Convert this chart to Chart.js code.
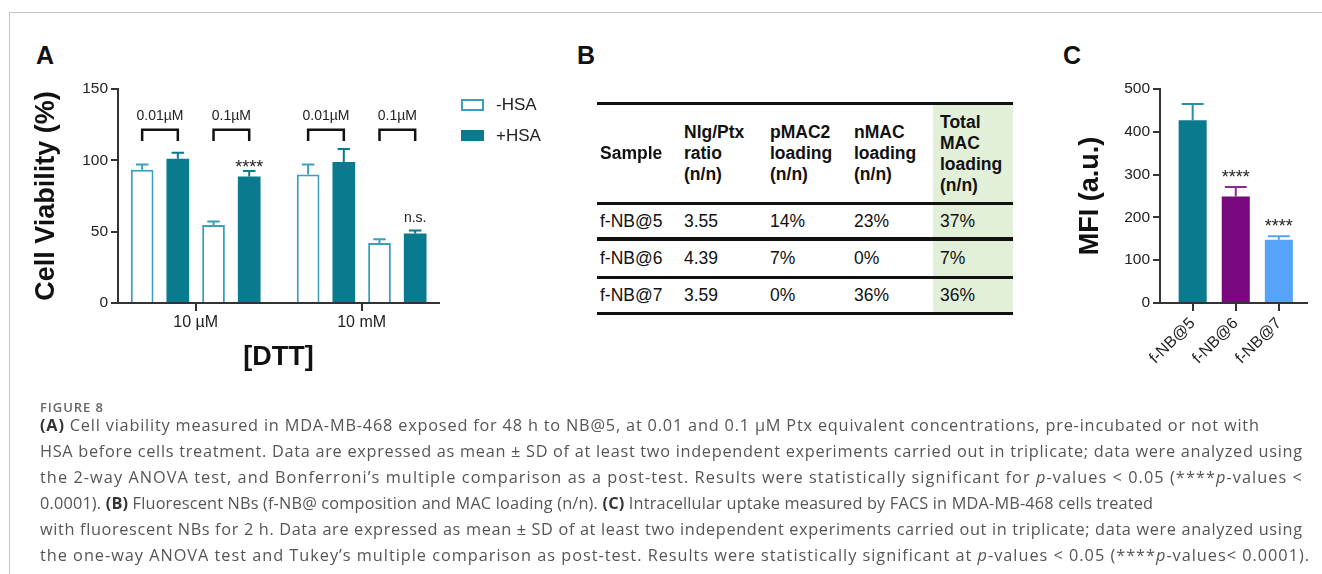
<!DOCTYPE html>
<html><head><meta charset="utf-8">
<script src="https://cdn.jsdelivr.net/npm/chart.js@4.4.0/dist/chart.umd.min.js"></script>
<style>
html,body{margin:0;padding:0;background:#fff;}
body{width:1322px;height:574px;position:relative;overflow:hidden;font-family:'Liberation Sans',Arial,sans-serif;}
.abs{position:absolute;}
.letter{position:absolute;font:bold 25px/25px 'Liberation Sans',Arial,sans-serif;color:#111;}
.cell{position:absolute;font-size:17.5px;line-height:21px;color:#111;white-space:nowrap;}
.cap{position:absolute;left:40px;font-family:'Open Sans','Noto Sans',sans-serif;font-size:16.3px;line-height:26px;height:26px;color:#555;white-space:nowrap;}
.cap b{color:#333;font-weight:700;}
.leg{position:absolute;font-size:17px;line-height:20px;color:#222;}
</style></head><body>
<div class="abs" style="left:9px;top:12px;width:1313px;height:1px;background:#c4c4c4"></div>
<div class="abs" style="left:9px;top:12px;width:1px;height:562px;background:#c4c4c4"></div>
<div class="letter" style="left:36px;top:43px">A</div>
<div class="letter" style="left:577px;top:43px">B</div>
<div class="letter" style="left:1063px;top:43px">C</div>
<canvas id="chartA" class="abs" width="560" height="330" style="left:0;top:70px;width:560px;height:330px"></canvas>
<canvas id="chartC" class="abs" width="282" height="330" style="left:1040px;top:70px;width:282px;height:330px"></canvas>
<div id="legendA"></div>
<div id="tableB"></div>
<div id="caption"></div>
<script>
// ---------- DATA ----------
const dttLevels = ['10 µM', '10 mM'];
const bracketLabels = ['0.01µM', '0.1µM'];
const legendLabels = ['-HSA', '+HSA'];
const minusHSA_001 = [93.4, 90.1];
const minusHSA_001_sd = [3.7, 7.0];
const plusHSA_001 = [101.1, 98.8];
const plusHSA_001_sd = [4.2, 9.1];
const minusHSA_01 = [54.7, 42.1];
const minusHSA_01_sd = [2.5, 2.5];
const plusHSA_01 = [88.7, 48.8];
const plusHSA_01_sd = [3.8, 2.1];
const sigA = ['****', 'n.s.'];
const yTicksA = [0, 50, 100, 150];

const samplesC = ['f-NB@5', 'f-NB@6', 'f-NB@7'];
const mfiC = [427, 249, 148];
const mfiC_sd = [38, 22, 8];
const sigC = ['', '****', '****'];
const yTicksC = [0, 100, 200, 300, 400, 500];

const tableHeaders = [['Sample'], ['Nlg/Ptx', 'ratio', '(n/n)'], ['pMAC2', 'loading', '(n/n)'], ['nMAC', 'loading', '(n/n)'], ['Total', 'MAC', 'loading', '(n/n)']];
const tableSamples = ['f-NB@5', 'f-NB@6', 'f-NB@7'];
const tableRatio = ['3.55', '4.39', '3.59'];
const tablePMAC2 = ['14%', '7%', '0%'];
const tableNMAC = ['23%', '0%', '36%'];
const tableTotal = ['37%', '7%', '36%'];

// ---------- STYLES ----------
const TEAL = '#0a7a8e', LTEAL = '#3a9ebd';
const barColorsC = ['#0a7a8e', '#79077e', '#57a3f7'];
const errColorsC = ['#2a8ea6', '#8a2a8e', '#57a3f7'];
const FONT = "'Liberation Sans', Arial, sans-serif";
Chart.defaults.font.family = FONT;
Chart.defaults.color = '#222';

const annot = {
  id: 'annot',
  afterDatasetsDraw(chart, args, opts) {
    const ctx = chart.ctx, y = chart.scales.y;
    chart.data.datasets.forEach((ds, di) => {
      const meta = chart.getDatasetMeta(di);
      meta.data.forEach((el, i) => {
        const v = ds.data[i].y, sd = ds.sd[i];
        const top = y.getPixelForValue(v + sd);
        const capW = el.width * opts.capRatio;
        const col = Array.isArray(ds.errColor) ? ds.errColor[i] : ds.errColor;
        ctx.save();
        ctx.strokeStyle = col; ctx.lineWidth = 2;
        ctx.beginPath();
        ctx.moveTo(el.x, el.y); ctx.lineTo(el.x, top);
        ctx.moveTo(el.x - capW / 2, top); ctx.lineTo(el.x + capW / 2, top);
        ctx.stroke();
        if (ds.sig && ds.sig[i]) {
          const s = ds.sig[i];
          ctx.fillStyle = '#222';
          ctx.textAlign = 'center'; ctx.textBaseline = 'alphabetic';
          ctx.font = (s === 'n.s.' ? '14px ' : '18px ') + FONT;
          ctx.fillText(s, el.x, top + (opts.sigShift[s] || 0));
        }
        ctx.restore();
      });
    });
    if (opts.brackets) {
      const b = opts.brackets;
      const yt = y.getPixelForValue(b.top), yl = y.getPixelForValue(b.leg), yx = y.getPixelForValue(b.label);
      const nGroups = chart.getDatasetMeta(0).data.length;
      for (let g = 0; g < nGroups; g++) {
        for (let p = 0; p < b.pairs.length; p++) {
          const [a, c] = b.pairs[p];
          const x1 = chart.getDatasetMeta(a).data[g].x, x2 = chart.getDatasetMeta(c).data[g].x;
          ctx.save();
          ctx.strokeStyle = '#111'; ctx.lineWidth = 2.5;
          ctx.beginPath();
          ctx.moveTo(x1, yl); ctx.lineTo(x1, yt); ctx.lineTo(x2, yt); ctx.lineTo(x2, yl);
          ctx.stroke();
          ctx.fillStyle = '#222'; ctx.font = '14px ' + FONT;
          ctx.textAlign = 'center'; ctx.textBaseline = 'middle';
          ctx.fillText(b.labels[p], (x1 + x2) / 2, yx);
          ctx.restore();
        }
      }
    }
  }
};

function mkDs(label, vals, sds, open, sig) {
  return {
    label, data: vals.map((v, i) => ({x: i, y: v})), sd: sds, sig,
    backgroundColor: open ? '#ffffff' : TEAL,
    borderColor: open ? LTEAL : TEAL,
    borderWidth: open ? 2 : 0,
    errColor: open ? LTEAL : TEAL
  };
}

new Chart(document.getElementById('chartA'), {
  type: 'bar',
  data: {datasets: [
    mkDs(legendLabels[0] + ' ' + bracketLabels[0], minusHSA_001, minusHSA_001_sd, true),
    mkDs(legendLabels[1] + ' ' + bracketLabels[0], plusHSA_001, plusHSA_001_sd, false),
    mkDs(legendLabels[0] + ' ' + bracketLabels[1], minusHSA_01, minusHSA_01_sd, true),
    mkDs(legendLabels[1] + ' ' + bracketLabels[1], plusHSA_01, plusHSA_01_sd, false, sigA)
  ]},
  options: {
    responsive: false, animation: false, devicePixelRatio: 1,
    layout: {padding: {left: 0, right: 121, top: 19, bottom: 0}},
    datasets: {bar: {categoryPercentage: 0.86, barPercentage: 0.636}},
    plugins: {legend: {display: false}, tooltip: {enabled: false},
      annot: {capRatio: 0.55, sigShift: {'****': 1.5, 'n.s.': -8},
        brackets: {pairs: [[0, 1], [2, 3]], labels: bracketLabels, top: 121.4, leg: 113.5, label: 131}}},
    scales: {
      x: {type: 'linear', min: -0.468, max: 1.466, offset: false,
        afterBuildTicks: s => { s.ticks = dttLevels.map((_, i) => ({value: i})); },
        afterFit: s => { s.height = 97; },
        ticks: {callback: v => dttLevels[v] ?? '', font: {size: 16}, padding: 2, color: '#222', maxRotation: 0, minRotation: 0, autoSkip: false},
        grid: {display: true, drawOnChartArea: false, drawTicks: true, tickLength: 8, color: '#333', lineWidth: 2, offset: false},
        border: {display: true, color: '#333', width: 2},
        title: {display: true, text: '[DTT]', font: {size: 27, weight: 'bold'}, color: '#111', padding: {top: 0, bottom: 26}}
      },
      y: {min: 0, max: 150,
        afterBuildTicks: s => { s.ticks = yTicksA.map(v => ({value: v})); },
        afterFit: s => { s.width = 118; },
        ticks: {font: {size: 15.5}, padding: 3, color: '#222'},
        grid: {drawOnChartArea: false, tickLength: 7, color: '#333', lineWidth: 2},
        border: {color: '#333', width: 2},
        title: {display: true, text: 'Cell Viability (%)', font: {size: 27, weight: 'bold'}, color: '#111', padding: {top: 30, bottom: 0}}
      }
    }
  },
  plugins: [annot]
});

new Chart(document.getElementById('chartC'), {
  type: 'bar',
  data: {datasets: [{
    label: 'MFI', data: mfiC.map((v, i) => ({x: i, y: v})), sd: mfiC_sd, sig: sigC,
    backgroundColor: barColorsC, borderWidth: 0, errColor: errColorsC
  }]},
  options: {
    responsive: false, animation: false, devicePixelRatio: 1,
    layout: {padding: {left: 0, right: 15, top: 19, bottom: 0}},
    datasets: {bar: {categoryPercentage: 1, barPercentage: 0.651}},
    plugins: {legend: {display: false}, tooltip: {enabled: false},
      annot: {capRatio: 0.78, sigShift: {'****': -4.5}}},
    scales: {
      x: {type: 'linear', min: -0.758, max: 2.653, offset: false,
        afterBuildTicks: s => { s.ticks = samplesC.map((_, i) => ({value: i})); },
        afterFit: s => { s.height = 97; },
        ticks: {callback: v => samplesC[v] ?? '', font: {size: 16}, padding: 3, color: '#222', maxRotation: 45, minRotation: 45, autoSkip: false},
        grid: {display: true, drawOnChartArea: false, drawTicks: true, tickLength: 8, color: '#333', lineWidth: 2, offset: false},
        border: {display: true, color: '#333', width: 2}
      },
      y: {min: 0, max: 500,
        afterBuildTicks: s => { s.ticks = yTicksC.map(v => ({value: v})); },
        afterFit: s => { s.width = 120; },
        ticks: {font: {size: 15.5}, padding: 3, color: '#222'},
        grid: {drawOnChartArea: false, tickLength: 7, color: '#333', lineWidth: 2},
        border: {color: '#333', width: 2},
        title: {display: true, text: 'MFI (a.u.)', font: {size: 27, weight: 'bold'}, color: '#111', padding: {top: 34, bottom: 0}}
      }
    }
  },
  plugins: [annot]
});

// ---------- LEGEND (A) ----------
(function () {
  const L = document.getElementById('legendA');
  const rows = [{y: 105, open: true}, {y: 135.7, open: false}];
  rows.forEach((r, i) => {
    const sw = document.createElement('div');
    sw.className = 'abs';
    sw.style.cssText = `left:461px;top:${r.y - 5.7}px;width:23px;height:11.4px;box-sizing:border-box;` +
      (r.open ? `background:#fff;border:2px solid ${LTEAL};` : `background:${TEAL};`);
    L.appendChild(sw);
    const t = document.createElement('div');
    t.className = 'leg';
    t.style.left = '496px'; t.style.top = (r.y - 10) + 'px';
    t.textContent = legendLabels[i];
    L.appendChild(t);
  });
})();

// ---------- TABLE (B) ----------
(function () {
  const T = document.getElementById('tableB');
  const colX = [600, 684, 770, 854, 940];
  const green = document.createElement('div');
  green.className = 'abs';
  green.style.cssText = 'left:933px;top:103px;width:80px;height:210px;background:#e2efd9;';
  T.appendChild(green);
  [103.3, 203.3, 239, 277.3, 313.3].forEach(yc => {
    const r = document.createElement('div');
    r.className = 'abs';
    r.style.cssText = `left:597px;top:${yc - 1.75}px;width:416px;height:3.5px;background:#111;`;
    T.appendChild(r);
  });
  tableHeaders.forEach((lines, c) => {
    const d = document.createElement('div');
    d.className = 'cell';
    d.style.fontWeight = 'bold';
    d.style.left = colX[c] + 'px';
    d.style.top = (153.5 - lines.length * 10.5) + 'px';
    d.innerHTML = lines.join('<br>');
    T.appendChild(d);
  });
  const cols = [tableSamples, tableRatio, tablePMAC2, tableNMAC, tableTotal];
  const rowY = [221.5, 258.5, 295];
  cols.forEach((col, c) => col.forEach((txt, r) => {
    const d = document.createElement('div');
    d.className = 'cell';
    d.style.left = colX[c] + 'px';
    d.style.top = (rowY[r] - 10.5) + 'px';
    d.textContent = txt;
    T.appendChild(d);
  }));
})();

// ---------- CAPTION ----------
(function () {
  const C = document.getElementById('caption');
  const fig = document.createElement('div');
  fig.className = 'cap';
  fig.style.cssText += 'font-size:13px;font-weight:600;color:#666;top:394px;';
  fig.textContent = 'FIGURE 8';
  fig.dataset.w = 63;
  C.appendChild(fig);
  const lines = [
    ['<b>(A)</b> Cell viability measured in MDA-MB-468 exposed for 48 h to NB@5, at 0.01 and 0.1 µM Ptx equivalent concentrations, pre-incubated or not with', 1259],
    ['HSA before cells treatment. Data are expressed as mean ± SD of at least two independent experiments carried out in triplicate; data were analyzed using', 1302],
    ['the 2-way ANOVA test, and Bonferroni’s multiple comparison as a post-test. Results were statistically significant for <i>p</i>-values &lt; 0.05 (****<i>p</i>-values &lt;', 1302],
    ['0.0001). <b>(B)</b> Fluorescent NBs (f-NB@ composition and MAC loading (n/n). <b>(C)</b> Intracellular uptake measured by FACS in MDA-MB-468 cells treated', 1153],
    ['with fluorescent NBs for 2 h. Data are expressed as mean ± SD of at least two independent experiments carried out in triplicate; data were analyzed using', 1302],
    ['the one-way ANOVA test and Tukey’s multiple comparison as post-test. Results were statistically significant at <i>p</i>-values &lt; 0.05 (****<i>p</i>-values&lt; 0.0001).', 1309]
  ];
  lines.forEach((l, i) => {
    const d = document.createElement('div');
    d.className = 'cap';
    d.style.top = (412 + i * 26) + 'px';
    d.innerHTML = l[0];
    d.dataset.w = l[1] - 40;
    C.appendChild(d);
  });
  C.querySelectorAll('.cap').forEach(d => {
    const w = d.getBoundingClientRect().width;
    const n = d.textContent.length;
    const ls = (parseFloat(d.dataset.w) - w) / Math.max(1, n - 1);
    d.style.letterSpacing = ls.toFixed(3) + 'px';
  });
})();
</script>
</body></html>
